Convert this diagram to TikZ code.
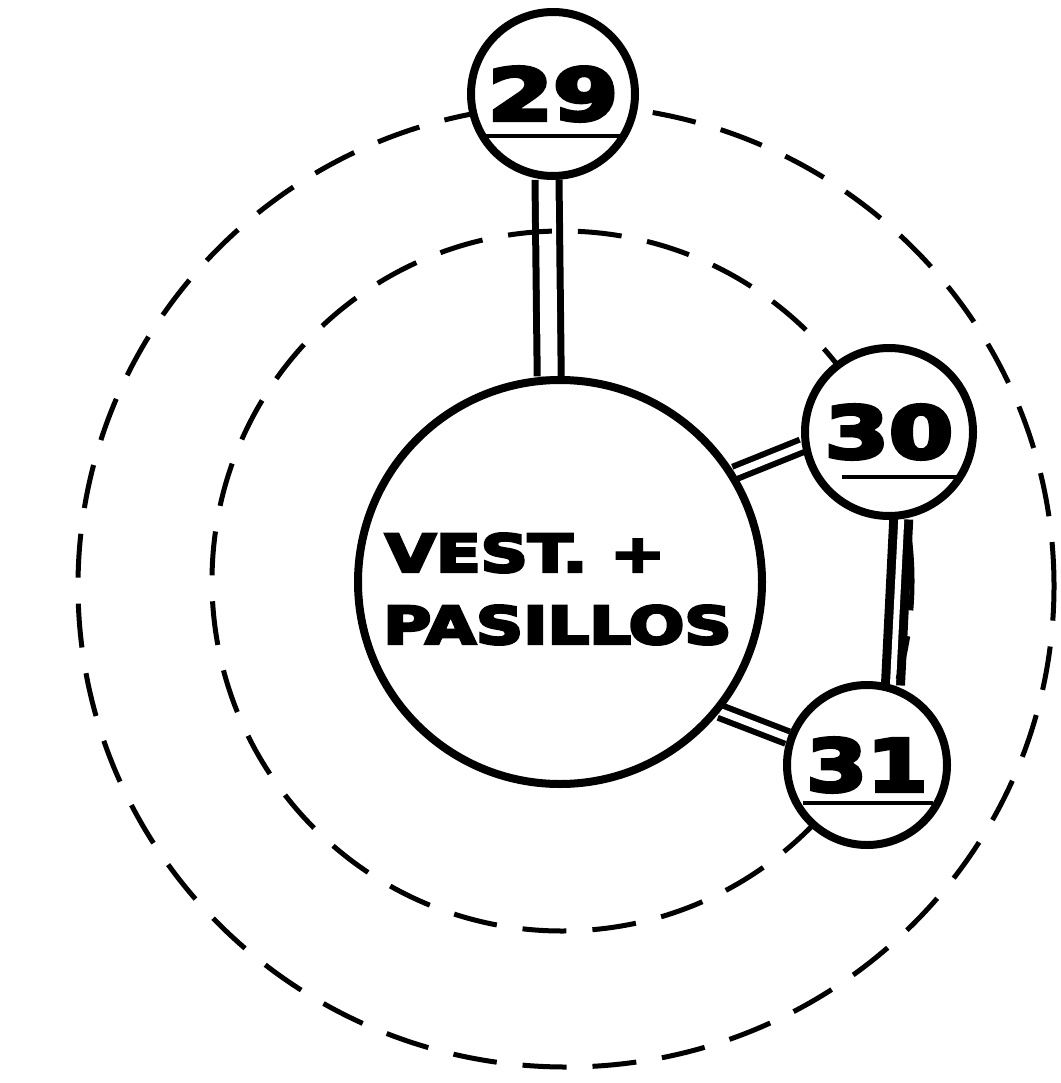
\documentclass[tikz,border=0pt]{standalone}
\usepackage{fontspec}
\usepackage{graphicx}
\newfontfamily\heavyfont{DejaVu Sans}[FakeBold=5]
\pgfdeclarelayer{bg}
\pgfsetlayers{bg,main}
\begin{document}
\begin{tikzpicture}[x=1pt,y=-1pt,
  ring/.style={circle, draw, line width=8pt, fill=white, inner sep=0pt},
  orbit/.style={line width=5pt, dash pattern=on 44pt off 26pt},
  link/.style={double, draw=black, double=white},
  ul/.style={line width=4.5pt},
  numtext/.style={font=\heavyfont\bfseries\fontsize{72}{72}\selectfont},
  captext/.style={inner sep=0pt, font=\heavyfont\bfseries\fontsize{52}{52}\selectfont}]
\useasboundingbox (0,0) rectangle (1060,1083);
% main circles
\node[ring, minimum size=404pt] (c) at (560,582) {};
\node[ring, minimum size=164pt, numtext] (n29) at (553,94) {\scalebox{1.3}[1]{29}};
\node[ring, minimum size=168pt, numtext] (n30) at (889,432) {\scalebox{1.28}[1]{30}};
\node[ring, minimum size=160pt, numtext] (n31) at (867,765) {\scalebox{1.21}[1]{31}};
% central text
\node[captext, anchor=west] (l1) at (385,553) {\scalebox{1.26}[1]{VEST. +}};
\node[captext, anchor=west] (l2) at (383,625) {\scalebox{1.26}[1]{PASILLOS}};
% underlines
\draw[ul] ([shift={(-71,42)}]n29.center) -- ([shift={(69,42)}]n29.center);
\draw[ul] ([shift={(-47,45)}]n30.center) -- ([shift={(68,45)}]n30.center);
\draw[ul] ([shift={(-64,38)}]n31.center) -- ([shift={(66,38)}]n31.center);
\begin{pgfonlayer}{bg}
  \draw[link, line width=7pt, double distance=17pt] (n29.266) -- (c.93);
  \draw[link, line width=6pt, double distance=7pt] (c.32) -- (n30.189);
  \draw[link, line width=9pt, double distance=6pt] (n30.-82) -- (n31.72);
  \draw[link, line width=6pt, double distance=7pt] (c.-39) -- (n31.161);
  \draw[orbit] (566,586) ellipse [x radius=488pt, y radius=481pt];
  \draw[orbit] (562,581) circle [radius=350pt];
\end{pgfonlayer}
\end{tikzpicture}
\end{document}
